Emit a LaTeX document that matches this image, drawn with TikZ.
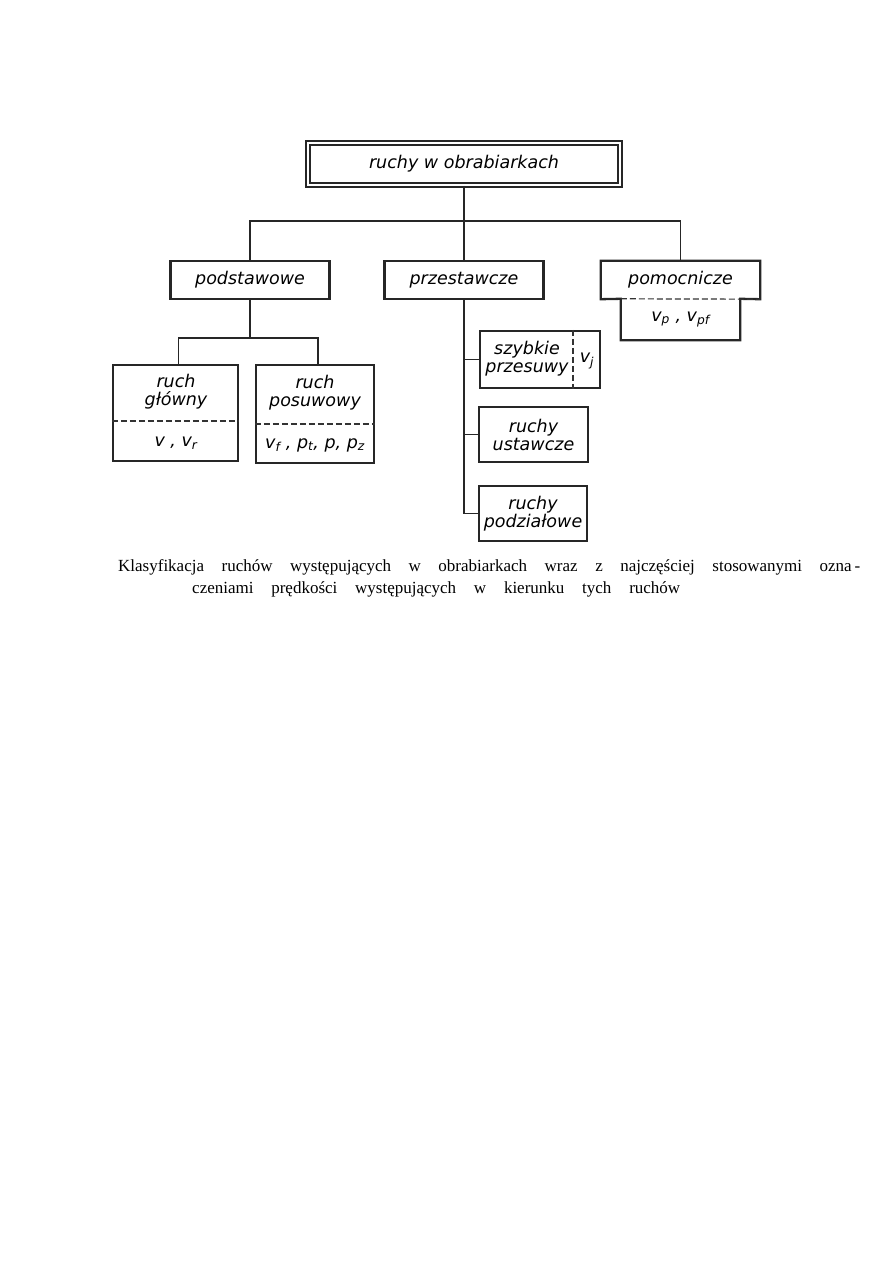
\documentclass[tikz,border=0pt]{standalone}
\usepackage{fontspec}
\setmainfont{Liberation Serif}
\newfontfamily\boxfont{DejaVu Sans}
\usetikzlibrary{
    positioning,
    calc
}

\begin{document}
\begin{tikzpicture}[
    x=1pt, y=-1pt,
    every node/.style={
        font=\boxfont\itshape\fontsize{17.5pt}{18pt}\selectfont
    },
    box/.style={
        rectangle,
        draw=black!85,
        line width=2.3pt,
        align=center,
        inner sep=0pt,
        fill=white
    },
    frame/.style={
        rectangle,
        align=center,
        inner sep=0pt
    },
    label/.style={
        align=center,
        inner sep=0pt
    },
    boxline/.style={
        draw=black!85,
        line width=2.3pt,
        line join=miter
    },
    link/.style={
        draw=black!85,
        line width=1.3pt
    },
    split/.style={
        draw=black!80,
        line width=1.2pt,
        dash pattern=on 6pt off 3pt
    },
    caption/.style={
        font=\fontsize{17pt}{22pt}\selectfont,
        anchor=base west,
        inner sep=0pt
    }
]

\useasboundingbox (0,0) rectangle (893,1263);

% ===========================================================
% ROOT
% ===========================================================

\node[box, double, double distance=2.6pt, line width=1.9pt,
      minimum width=312pt, minimum height=42pt] (root) at (464,164)
    {ruchy w obrabiarkach};

% ===========================================================
% SECOND LEVEL
% ===========================================================

\node[box, minimum width=159pt, minimum height=38pt] (pods) at (250,280)
    {podstawowe};

\node[box, minimum width=159pt, minimum height=38pt] (przes) at (464,280)
    {przestawcze};

% pomocnicze: upper part with symbol part hanging below
\node[frame, minimum width=159pt, minimum height=38pt] (pomoc) at (680.5,280)
    {pomocnicze};
\node[frame, minimum width=119pt, minimum height=41pt] (pomocv) at (680.5,319.5)
    {v\textsubscript{p} , v\textsubscript{pf}};

\draw[boxline]
    (pomoc.north west) -- (pomoc.north east) -- (pomoc.south east)
    -- (pomocv.north east) -- (pomocv.south east)
    -- (pomocv.south west) -- (pomocv.north west)
    -- (pomoc.south west) -- cycle;
\draw[split] (pomocv.north west) -- (pomoc.south east);

% Root to second level
\coordinate (bus1) at (464,221);
\draw[link] (root.south) -- (bus1);
\draw[link] (pods.north) |- (bus1) -| (pomoc.north);
\draw[link] (bus1) -- (przes.north);

% ===========================================================
% BASIC MOTIONS
% ===========================================================

\node[box, minimum width=125pt, minimum height=96pt] (glowny) at (175.5,413) {};
\node[label] (glownyname) at (176,392) {ruch\\główny};
\node[label] (glownyv) at (176,443) {v , v\textsubscript{r}};
\draw[split] (glowny.west |- 0,421) -- (glowny.east |- 0,421);

\node[box, minimum width=118pt, minimum height=98pt] (posuw) at (315,414) {};
\node[label] (posuwname) at (315,393) {ruch\\posuwowy};
\node[label] (posuwv) at (315,445)
    {v\textsubscript{f} , p\textsubscript{t}, p, p\textsubscript{z}};
\draw[split] (posuw.west |- 0,424) -- (posuw.east |- 0,424);

\coordinate (bus2) at (250,338);
\draw[link] (pods.south) -- (bus2);
\draw[link] ($(glowny.north)+(3,0)$) |- (bus2) -| ($(posuw.north)+(3,0)$);

% ===========================================================
% ADJUSTING MOTIONS
% ===========================================================

\node[box, minimum width=120pt, minimum height=57pt] (szyb) at (540,359.5) {};
\node[label] (szybname) at (527,359) {szybkie\\przesuwy};
\node[label] (szybv) at (587,361) {v\textsubscript{j}};
\draw[split] (szyb.north -| 573,0) -- (szyb.south -| 573,0);

\node[box, minimum width=109pt, minimum height=55pt] (ustaw) at (533.5,434.5)
    {ruchy\\ustawcze};

\node[box, minimum width=108pt, minimum height=55pt] (podz) at (533,513.5)
    {ruchy\\podziałowe};

\draw[link] (przes.south) |- (podz.west);
\draw[link] (przes.south |- szyb.west) -- (szyb.west);
\draw[link] (przes.south |- ustaw.west) -- (ustaw.west);

% ===========================================================
% CAPTION
% ===========================================================

\node[caption] (cap1) at (118,571)
    {\makebox[742pt][s]{Klasyfikacja ruchów występujących w obrabiarkach wraz z najczęściej stosowanymi ozna\,-}};
\node[caption] (cap2) at (192,593)
    {\makebox[488pt][s]{czeniami prędkości występujących w kierunku tych ruchów}};

\end{tikzpicture}
\end{document}
